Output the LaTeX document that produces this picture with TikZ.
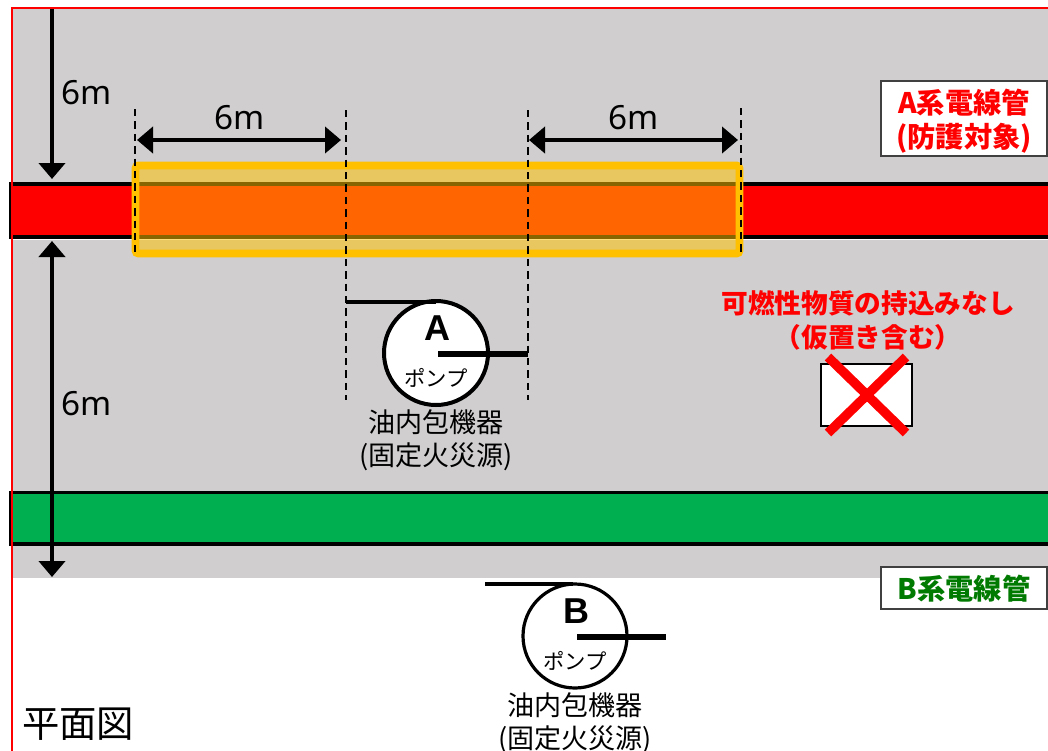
\documentclass[tikz,border=0pt]{standalone}
\usepackage{fontspec}
\usetikzlibrary{arrows.meta}
\setmainfont{Noto Sans}
\newfontfamily\cjk{Noto Sans CJK JP}
\newfontfamily\arialb{Liberation Sans Bold}
\definecolor{bggrey}{HTML}{D0CECE}
\definecolor{pipegreen}{HTML}{00B050}
\definecolor{labelgreen}{HTML}{007A00}
\definecolor{zonegold}{HTML}{FFC000}
\tikzset{
  x=0.75pt,y=-0.75pt,
  pipe/.style={draw=black,line width=2.6pt},
  dashline/.style={draw=black,line width=2.2pt,dash pattern=on 5.5pt off 3.8pt},
  dim/.style={line width=3.3pt,{Triangle[length=12pt,width=19.5pt]}-{Triangle[length=12pt,width=19.5pt]}},
  dimdown/.style={line width=3.3pt,-{Triangle[length=12pt,width=19.5pt]}},
  dimtxt/.style={font=\fontsize{25}{25}\selectfont,inner sep=0pt},
  pump/.style={circle,draw=black,fill=white,inner sep=0pt,minimum size=78pt},
  tagbox/.style={draw=black!75,line width=1.1pt,fill=white,inner sep=0pt},
  tagtxt/.style={font=\cjk\bfseries\fontsize{21.2}{25.6}\selectfont,align=center,inner sep=0pt},
  eqtxt/.style={font=\cjk\fontsize{20.3}{24.8}\selectfont,align=center,inner sep=0pt},
  pumptxt/.style={font=\cjk\fontsize{16}{16}\selectfont,inner sep=0pt},
  letter/.style={font=\arialb\fontsize{27}{27}\selectfont,inner sep=0pt},
}
\begin{document}
\begin{tikzpicture}
\useasboundingbox (0,0) rectangle (1048,750);
\clip (0,0) rectangle (1048,750);
\fill[white] (0,0) rectangle (1048,750);
\fill[bggrey] (12,8) rectangle (1048,578);
% pipes
\draw[white,line width=0.8pt] (12,239.5) -- (1048,239.5);
\draw[pipe,fill=red] (10.5,184) rectangle (1060,237);
\draw[pipe,fill=pipegreen] (10.5,492.5) rectangle (1060,544);
% outer frame
\draw[red,line width=2.2pt] (1060,8) -- (12,8) -- (12,760);
% zone
\draw[draw=zonegold,line width=5.7pt,rounded corners=2pt,fill=zonegold,fill opacity=0.53] (135.5,165.5) rectangle (739.5,253.5);
% dashed
\coordinate (d1t) at (135,109); \coordinate (d1b) at (135,252);
\coordinate (d2t) at (346,110); \coordinate (d2b) at (346,400);
\coordinate (d3t) at (528,110); \coordinate (d3b) at (528,400);
\coordinate (d4t) at (741,108); \coordinate (d4b) at (741,252);
\draw[dashline] (d1t) -- (d1b);
\draw[dashline] (d2t) -- (d2b);
\draw[dashline] (d3t) -- (d3b);
\draw[dashline] (d4t) -- (d4b);
% dimensions
\coordinate (h1a) at (137,140); \coordinate (h1b) at (341,140);
\coordinate (h2a) at (529,140); \coordinate (h2b) at (738,140);
\coordinate (v1a) at (52,9);   \coordinate (v1b) at (52,179);
\coordinate (v2a) at (52,241); \coordinate (v2b) at (52,577);
\draw[dim] (h1a) -- (h1b);
\draw[dim] (h2a) -- (h2b);
\draw[dimdown] (v1a) -- (v1b);
\draw[dim] (v2a) -- (v2b);
\node[dimtxt] (l1) at (87,93) {6m};
\node[dimtxt] (l2) at (240,118) {6m};
\node[dimtxt] (l3) at (634,118) {6m};
\node[dimtxt] (l4) at (87,403.5) {6m};
% tags
\node[tagbox,minimum width=124.5pt,minimum height=56pt] (ta) at (964,118.5) {};
\node[tagtxt,text=red] (tat) at (964,121) {A系電線管\\(防護対象)};
\node[tagbox,minimum width=124.5pt,minimum height=31.5pt] (tb) at (964,588) {};
\node[tagtxt,text=labelgreen] (tbt) at (964,589) {B系電線管};
% pump A
\node[pump,line width=3pt] (pa) at (436,353) {};
\node[letter] (paL) at (437,328) {A};
\node[pumptxt] (pat) at (436,378) {ポンプ};
\coordinate (a1) at (346,302); \coordinate (a2) at (436,302);
\coordinate (a3) at (438,354); \coordinate (a4) at (528,354);
\draw[line width=2.8pt] (a1) -- (a2);
\draw[line width=4pt] (a3) -- (a4);
\node[eqtxt] (eqa) at (436,440) {油内包機器\\(固定火災源)};
% pump B
\node[pump,line width=2.4pt] (pb) at (575,636) {};
\node[letter] (pbL) at (576,611) {B};
\node[pumptxt] (pbt) at (575,661) {ポンプ};
\coordinate (b1) at (485,584); \coordinate (b2) at (573,584);
\coordinate (b3) at (577,637); \coordinate (b4) at (666,637);
\draw[line width=2.8pt] (b1) -- (b2);
\draw[line width=4pt] (b3) -- (b4);
\node[eqtxt] (eqb) at (575,723) {油内包機器\\(固定火災源)};
% no storage
\node[font=\cjk\bfseries\fontsize{20}{25.5}\selectfont,text=red,align=center,inner sep=0pt] (note) at (868,320) {可燃性物質の持込みなし\\（仮置き含む）};
\node[draw=black,line width=1.5pt,fill=white,minimum width=68.5pt,minimum height=46.5pt,inner sep=0pt] (bx) at (866.5,395) {};
\coordinate (x1) at (828,357); \coordinate (x2) at (906,433);
\coordinate (x3) at (906,357); \coordinate (x4) at (828,433);
\draw[red,line width=7pt] (x1) -- (x2);
\draw[red,line width=7pt] (x3) -- (x4);
% title
\node[font=\cjk\fontsize{28}{28}\selectfont,inner sep=0pt] (title) at (78,724) {平面図};
\end{tikzpicture}
\end{document}
